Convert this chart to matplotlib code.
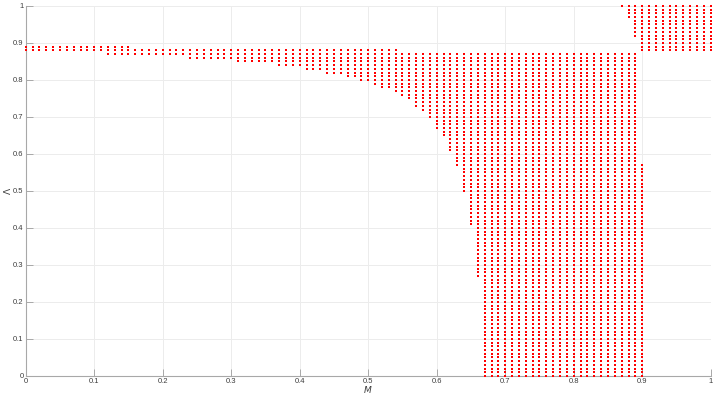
import numpy as np
import matplotlib
matplotlib.use('Agg')
import matplotlib.pyplot as plt

# each run: columns x_from..x_to (step 0.01) filled with dots from y_low..y_high (step 0.01)
SEG_X_FROM = [0.00, 0.12, 0.16, 0.24, 0.31, 0.37, 0.41, 0.44, 0.47, 0.49, 0.51, 0.52, 0.54,
              0.55, 0.56, 0.57, 0.58, 0.59, 0.60, 0.61, 0.62, 0.63, 0.64, 0.65, 0.66, 0.67, 0.90,
              0.87, 0.88, 0.89, 0.90]
SEG_X_TO   = [0.11, 0.15, 0.23, 0.30, 0.36, 0.40, 0.43, 0.46, 0.48, 0.50, 0.51, 0.53, 0.54,
              0.55, 0.56, 0.57, 0.58, 0.59, 0.60, 0.61, 0.62, 0.63, 0.64, 0.65, 0.66, 0.89, 0.90,
              0.87, 0.88, 0.89, 1.00]
SEG_Y_LOW  = [0.88, 0.87, 0.87, 0.86, 0.85, 0.84, 0.83, 0.82, 0.81, 0.80, 0.79, 0.78, 0.77,
              0.76, 0.75, 0.73, 0.72, 0.70, 0.67, 0.65, 0.61, 0.57, 0.50, 0.41, 0.27, 0.00, 0.00,
              1.00, 0.97, 0.92, 0.88]
SEG_Y_HIGH = [0.89, 0.89, 0.88, 0.88, 0.88, 0.88, 0.88, 0.88, 0.88, 0.88, 0.88, 0.88, 0.88,
              0.87, 0.87, 0.87, 0.87, 0.87, 0.87, 0.87, 0.87, 0.87, 0.87, 0.87, 0.87, 0.87, 0.57,
              1.00, 1.00, 1.00, 1.00]

X_TICKS = [0, 0.1, 0.2, 0.3, 0.4, 0.5, 0.6, 0.7, 0.8, 0.9, 1]
Y_TICKS = [0, 0.1, 0.2, 0.3, 0.4, 0.5, 0.6, 0.7, 0.8, 0.9, 1]
X_TICK_LABELS = ['0', '0.1', '0.2', '0.3', '0.4', '0.5', '0.6', '0.7', '0.8', '0.9', '1']
Y_TICK_LABELS = ['0', '0.1', '0.2', '0.3', '0.4', '0.5', '0.6', '0.7', '0.8', '0.9', '1']


def expand(x0, x1, y0, y1):
    xs, ys = [], []
    for i in range(int(round(x0 * 100)), int(round(x1 * 100)) + 1):
        for j in range(int(round(y0 * 100)), int(round(y1 * 100)) + 1):
            xs.append(i / 100.0)
            ys.append(j / 100.0)
    return xs, ys


pts_x, pts_y = [], []
for a, b, c, d in zip(SEG_X_FROM, SEG_X_TO, SEG_Y_LOW, SEG_Y_HIGH):
    px, py = expand(a, b, c, d)
    pts_x += px
    pts_y += py

plt.rcParams['font.family'] = ['Liberation Sans', 'DejaVu Sans']

fig = plt.figure(figsize=(7.14, 3.94), dpi=100)
ax = fig.add_axes([0.036, 0.0457, 0.9594, 0.9391])

ax.scatter(pts_x, pts_y, s=1.5, marker='s', c='#ff0000', linewidths=0, clip_on=False, zorder=3)

ax.set_xlim(0, 1)
ax.set_ylim(0, 1)
ax.set_xticks(X_TICKS)
ax.set_xticklabels(X_TICK_LABELS)
ax.set_yticks(Y_TICKS)
ax.set_yticklabels(Y_TICK_LABELS)

ax.grid(True, color='#ececec', linewidth=0.7)
ax.set_axisbelow(True)
for side in ['top', 'right']:
    ax.spines[side].set_visible(False)
for side in ['left', 'bottom']:
    ax.spines[side].set_color('#a8a8a8')
    ax.spines[side].set_linewidth(0.8)
ax.tick_params(direction='in', length=5, width=0.7, color='#a8a8a8',
               labelsize=5.5, labelcolor='#3c3c3c', pad=1.5)

ax.set_xlabel(r'$M$', fontsize=6.5, color='#3c3c3c', va='center')
ax.set_ylabel(r'$\Lambda$', fontsize=6.5, color='#3c3c3c', va='center')
ax.xaxis.set_label_coords(0.5, -0.036)
ax.yaxis.set_label_coords(-0.026, 0.5)

fig.savefig('out.png', dpi=100)
